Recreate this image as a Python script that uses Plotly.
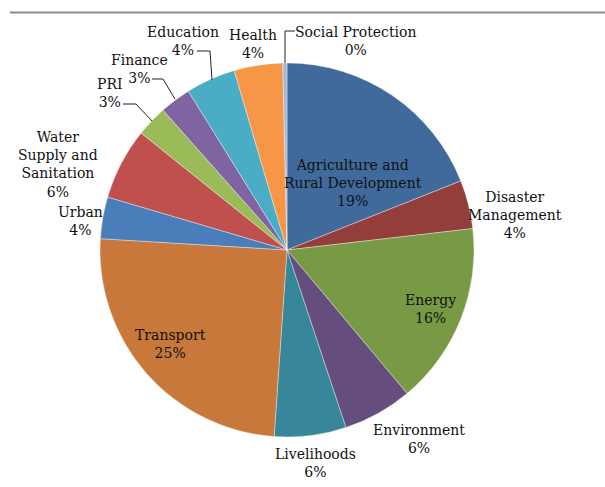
import plotly.graph_objects as go

# ---- data ----
sectors = ["Agriculture and Rural Development", "Disaster Management", "Energy",
           "Environment", "Livelihoods", "Transport", "Urban",
           "Water Supply and Sanitation", "PRI", "Finance", "Education",
           "Health", "Social Protection"]
shares = [19.0, 4.2, 15.75, 6.0, 6.2, 24.9, 3.6, 6.2, 2.7, 2.7, 4.3, 4.2, 0.36]
label_lines = ["Agriculture and<br>Rural Development", "Disaster<br>Management", "Energy",
               "Environment", "Livelihoods", "Transport", "Urban",
               "Water<br>Supply and<br>Sanitation", "PRI", "Finance", "Education",
               "Health", "Social Protection"]

# ---- style ----
colors = ["#406A9B", "#943E3B", "#789A45", "#654E7E", "#378699", "#C7783A", "#4A7EBB",
          "#C0504D", "#9BBB59", "#8064A2", "#4BACC6", "#F79646", "#A3B8D6"]
W, H = 605, 487
cx, cy, r = 287, 250, 187

# label centres (pixels) for each slice
label_pos = [(353, 183), (515, 215), (430, 309), (419, 439), (315, 463), (170, 344),
             (80, 221), (58, 164), (110, 93), (139, 69), (183, 41), (253, 44), (355, 41)]
# leader line polylines (pixels)
leaders = {
    8: [(123, 104), (136, 104), (152, 121)],
    9: [(152, 79), (163, 79), (175, 99)],
    10: [(197, 51), (210, 51), (212, 80)],
    12: [(295, 31), (285, 31), (285, 63)],
}

def px2p(x, y):
    return x / W, 1 - y / H

fig = go.Figure(go.Pie(
    labels=sectors, values=shares, sort=False, direction="clockwise", rotation=0,
    marker=dict(colors=colors, line=dict(color="rgba(255,255,255,0.6)", width=0.6)),
    textinfo="none", hoverinfo="label+percent", showlegend=False,
    domain=dict(x=[(cx - r) / W, (cx + r) / W], y=[(H - cy - r) / H, (H - cy + r) / H]),
))

font = dict(family="DejaVu Serif", size=14, color="#111111")
annotations = []
for i, (lab, v) in enumerate(zip(label_lines, shares)):
    x, y = px2p(*label_pos[i])
    annotations.append(dict(x=x, y=y, xref="paper", yref="paper", showarrow=False,
                            text=f"{lab}<br>{round(v)}%", font=font,
                            xanchor="center", yanchor="middle", align="center"))

shapes = [dict(type="line", xref="paper", yref="paper", x0=10 / W, x1=1, y0=1 - 12.5 / H,
               y1=1 - 12.5 / H, line=dict(color="#8a8a8a", width=2))]
for i, pts in leaders.items():
    path = "M " + " L ".join(f"{px2p(x, y)[0]},{px2p(x, y)[1]}" for x, y in pts)
    shapes.append(dict(type="path", xref="paper", yref="paper", path=path,
                       line=dict(color="#222222", width=1)))

fig.update_layout(width=W, height=H, margin=dict(l=0, r=0, t=0, b=0),
                  paper_bgcolor="white", plot_bgcolor="white",
                  annotations=annotations, shapes=shapes)
fig.write_html("out.html")
